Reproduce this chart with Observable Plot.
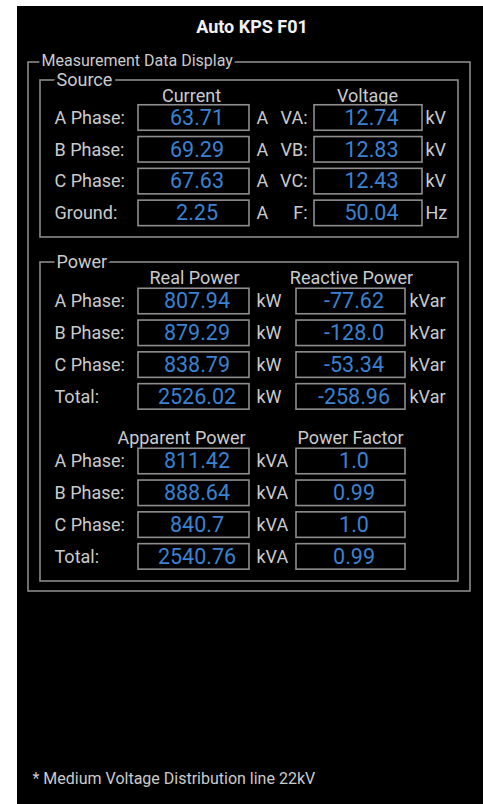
<!DOCTYPE html>
<html><head><meta charset="utf-8">
<script src="https://cdn.jsdelivr.net/npm/d3@7"></script>
<script src="https://cdn.jsdelivr.net/npm/@observablehq/plot@0.6"></script>
<style>html,body{margin:0;padding:0;background:#fff;} #chart svg{display:block}</style>
</head><body><div id="chart"></div>
<script>
// ---------- data ----------
const title = "Auto KPS F01";
const panelTitle = "Measurement Data Display";
const sectionTitles = ["Source", "Power"];
const footnote = "* Medium Voltage Distribution line 22kV";

const sourceHeaders = ["Current", "Voltage"];
const sourceRowLabels = ["A Phase:", "B Phase:", "C Phase:", "Ground:"];
const currentValues = [63.71, 69.29, 67.63, 2.25];
const currentUnit = "A";
const voltageLabels = ["VA:", "VB:", "VC:", "F:"];
const voltageValues = [12.74, 12.83, 12.43, 50.04];
const voltageUnits = ["kV", "kV", "kV", "Hz"];

const powerHeaders = ["Real Power", "Reactive Power"];
const powerRowLabels = ["A Phase:", "B Phase:", "C Phase:", "Total:"];
const realPower = [807.94, 879.29, 838.79, 2526.02];
const realUnit = "kW";
const reactivePower = [-77.62, -128.0, -53.34, -258.96];
const reactiveUnit = "kVar";

const apparentHeaders = ["Apparent Power", "Power Factor"];
const apparentPower = [811.42, 888.64, 840.7, 2540.76];
const apparentUnit = "kVA";
const powerFactor = [1.0, 0.99, 1.0, 0.99];

// ---------- layout (positions & styles) ----------
const W = 483, H = 804;
const L = {
  panel: {x1: 17, x2: 483, y1: 6, y2: 804},
  titleXY: [251.5, 27],
  outer: {x1: 28, x2: 470, y1: 62, y2: 591, lx: 41, ly: 60},
  source: {x1: 40, x2: 458, y1: 80, y2: 237, lx: 56, ly: 79.5},
  power: {x1: 40, x2: 458, y1: 262, y2: 581, lx: 56, ly: 262},
  labelX: 54,
  box1: [138, 249], unit1X: 256,
  step: 31.8, boxH: 25.5,
  src: {row0: 117.5, header: 95.5, hx: [191, 367], label2X: 307, box2: [314, 422], unit2X: 425},
  pow: {row0: 301, header: 278, hx: [194, 351], box2: [296, 405], unit2X: 409},
  app: {row0: 461, header: 438, hx: [181, 350], box2: [296, 405], unit2X: 409},
  footXY: [32, 778]
};
const C = {bg: "#000", frame: "#8a8a8a", box: "#8e8e8e", label: "#cbcbcb", value: "#3a82d2", title: "#f2f2f2"};

const fmt = v => Number.isInteger(v) ? v.toFixed(1) : String(v);

const labels = [], labelsEnd = [], units = [], values = [], boxes = [], headers = [];

function addBox(range, y, v) {
  boxes.push({x1: range[0], x2: range[1], y1: y - L.boxH / 2, y2: y + L.boxH / 2});
  values.push({x: (range[0] + range[1]) / 2 + 3, y, text: fmt(v)});
}

function block(cfg, rowLabels, v1, u1, v2, u2, heads, label2) {
  heads.forEach((h, j) => headers.push({x: cfg.hx[j], y: cfg.header, text: h}));
  rowLabels.forEach((lab, i) => {
    const y = cfg.row0 + i * L.step;
    labels.push({x: L.labelX, y, text: lab});
    addBox(L.box1, y, v1[i]);
    units.push({x: L.unit1X, y, text: u1});
    if (label2) labelsEnd.push({x: cfg.label2X, y, text: label2[i]});
    addBox(cfg.box2, y, v2[i]);
    const u = Array.isArray(u2) ? u2[i] : u2;
    if (u) units.push({x: cfg.unit2X, y, text: u});
  });
}

block(L.src, sourceRowLabels, currentValues, currentUnit, voltageValues, voltageUnits, sourceHeaders, voltageLabels);
block(L.pow, powerRowLabels, realPower, realUnit, reactivePower, reactiveUnit, powerHeaders, null);
block(L.app, powerRowLabels, apparentPower, apparentUnit, powerFactor, "", apparentHeaders, null);

const frames = [L.outer, L.source, L.power];
const frameLabels = [
  {x: L.outer.lx, y: L.outer.ly, text: panelTitle},
  {x: L.source.lx, y: L.source.ly, text: sectionTitles[0]},
  {x: L.power.lx, y: L.power.ly, text: sectionTitles[1]}
];

const chart = Plot.plot({
  width: W, height: H, margin: 0,
  x: {domain: [0, W], range: [0, W], axis: null},
  y: {domain: [0, H], range: [0, H], axis: null},
  style: {fontFamily: "Roboto, 'Noto Sans', sans-serif", background: "white"},
  marks: [
    Plot.rect([L.panel], {x1: "x1", x2: "x2", y1: "y1", y2: "y2", fill: C.bg}),
    Plot.text([{x: L.titleXY[0], y: L.titleXY[1], text: title}], {x: "x", y: "y", text: "text", fill: C.title, fontWeight: "bold", fontSize: 18}),
    Plot.rect(frames, {x1: "x1", x2: "x2", y1: "y1", y2: "y2", fill: "none", stroke: C.frame, strokeWidth: 1.6}),
    Plot.text(frameLabels.slice(0, 1), {x: "x", y: "y", text: "text", textAnchor: "start", fontSize: 16, fill: C.label, stroke: C.bg, strokeWidth: 7}),
    Plot.text(frameLabels.slice(1), {x: "x", y: "y", text: "text", textAnchor: "start", fontSize: 18, fill: C.label, stroke: C.bg, strokeWidth: 7}),
    Plot.text(headers, {x: "x", y: "y", text: "text", fontSize: 18, fill: C.label}),
    Plot.rect(boxes, {x1: "x1", x2: "x2", y1: "y1", y2: "y2", fill: C.bg, stroke: C.box, strokeWidth: 1.6}),
    Plot.text(labels, {x: "x", y: "y", text: "text", textAnchor: "start", fontSize: 18, fill: C.label}),
    Plot.text(labelsEnd, {x: "x", y: "y", text: "text", textAnchor: "end", fontSize: 18, fill: C.label}),
    Plot.text(units, {x: "x", y: "y", text: "text", textAnchor: "start", fontSize: 18, fill: C.label}),
    Plot.text(values, {x: "x", y: "y", text: "text", fontSize: 21.5, fill: C.value}),
    Plot.text([{x: L.footXY[0], y: L.footXY[1], text: footnote}], {x: "x", y: "y", text: "text", textAnchor: "start", fontSize: 16, fill: C.label})
  ]
});
document.getElementById("chart").appendChild(chart);
</script>
</body></html>
